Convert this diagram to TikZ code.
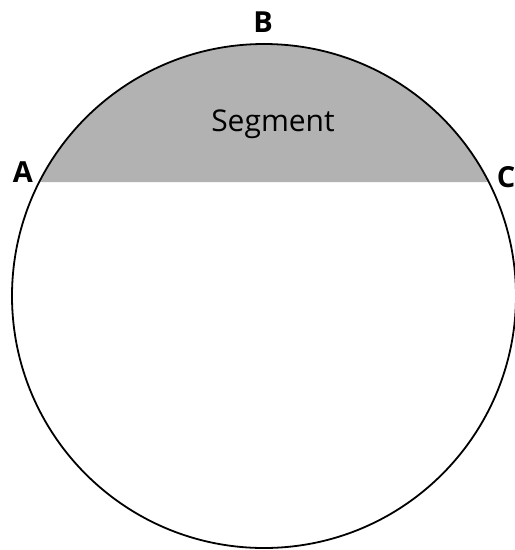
\documentclass[tikz,border=0pt]{standalone}
\usepackage{fontspec}
\setmainfont{Open Sans}
\begin{document}
\begin{tikzpicture}[x=1pt,y=-1pt,
  lbl/.style={font=\fontsize{29}{30}\selectfont\bfseries, inner sep=0pt},
  seglbl/.style={font=\fontsize{30}{32}\selectfont, inner sep=0pt}]
\useasboundingbox (0,0) rectangle (515,550);
\clip (0,0) rectangle (515,550);
\coordinate (O) at (264,296);
\coordinate (Aend) at (39.3,182);
\coordinate (Cend) at (488.7,182);
% segment fill
\fill[gray!60] (Aend) arc[start angle={206.9}, end angle={333.1}, radius=252] -- cycle;
\draw[line width=1.8pt] (O) circle[radius=252];
\node[lbl] (A) at (23,172) {A};
\node[lbl] (B) at (263,22) {B};
\node[lbl] (C) at (506,177) {C};
\node[seglbl] (S) at (273,124) {Segment};
\end{tikzpicture}
\end{document}
